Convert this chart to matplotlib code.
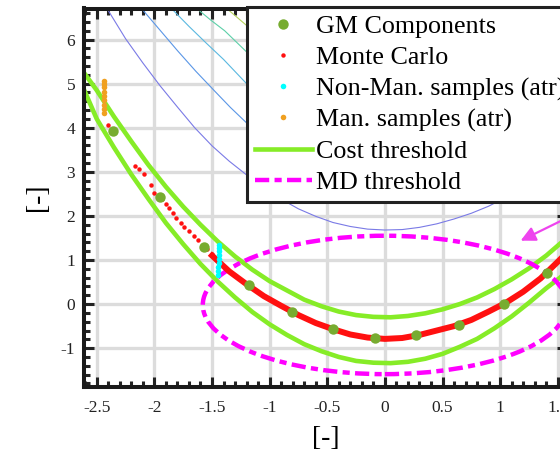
import matplotlib
matplotlib.use("Agg")
import matplotlib.pyplot as plt
from matplotlib.patches import Ellipse
from matplotlib.ticker import MultipleLocator, FormatStrFormatter

plt.rcParams["font.family"] = ["Liberation Serif", "DejaVu Serif"]
plt.rcParams["axes.unicode_minus"] = False

# GM components (means)
gm_x = [-2.36, -1.95, -1.57, -1.18, -0.81, -0.45, -0.09, 0.27, 0.64, 1.03, 1.41]
gm_y = [3.93, 2.43, 1.30, 0.43, -0.18, -0.57, -0.77, -0.70, -0.48, 0.00, 0.70]

# Monte Carlo: sparse samples on the upper branch, dense band further down
mc_sparse_x = [-2.40, -2.17, -2.13, -2.09, -2.03, -2.00, -1.96, -1.93, -1.90, -1.87,
               -1.84, -1.81, -1.77, -1.74, -1.70, -1.66, -1.62, -1.58, -1.54, -1.50]
mc_sparse_y = [4.07, 3.14, 3.07, 2.95, 2.70, 2.52, 2.45, 2.38, 2.28, 2.18,
               2.07, 1.95, 1.83, 1.75, 1.65, 1.55, 1.45, 1.35, 1.25, 1.13]
mc_band_x = [-1.50, -1.35, -1.20, -1.05, -0.90, -0.75, -0.60, -0.45, -0.30, -0.15, 0.00,
             0.15, 0.30, 0.45, 0.60, 0.75, 0.90, 1.05, 1.20, 1.35, 1.50, 1.60]
mc_band_y = [1.10, 0.74, 0.45, 0.18, -0.04, -0.25, -0.43, -0.57, -0.69, -0.76, -0.79,
             -0.77, -0.70, -0.60, -0.50, -0.36, -0.17, 0.03, 0.28, 0.58, 0.96, 1.22]

# attractor samples
nonman_x = [-1.445, -1.445, -1.444, -1.443, -1.442, -1.441, -1.440, -1.440, -1.439]
nonman_y = [0.66, 0.75, 0.84, 0.93, 1.02, 1.11, 1.20, 1.28, 1.34]
man_x = [-2.44, -2.44, -2.44, -2.44, -2.44, -2.44, -2.44, -2.44, -2.44]
man_y = [4.33, 4.42, 4.52, 4.62, 4.72, 4.82, 4.92, 5.00, 5.07]

# cost threshold (two branches)
cost_x = [-2.62, -2.50, -2.35, -2.20, -2.05, -1.90, -1.75, -1.60, -1.45, -1.30, -1.15,
          -1.00, -0.85, -0.70, -0.55, -0.40, -0.25, -0.10, 0.05, 0.20, 0.35, 0.50,
          0.65, 0.80, 0.95, 1.10, 1.25, 1.40, 1.52, 1.60]
cost_hi_y = [5.28, 4.85, 4.25, 3.69, 3.15, 2.66, 2.21, 1.80, 1.42, 1.08, 0.78,
             0.52, 0.31, 0.10, -0.05, -0.17, -0.25, -0.29, -0.30, -0.27, -0.21, -0.12,
             0.00, 0.15, 0.34, 0.56, 0.81, 1.10, 1.37, 1.55]
cost_lo_y = [4.92, 4.20, 3.55, 2.94, 2.38, 1.84, 1.36, 0.91, 0.51, 0.15, -0.18,
             -0.46, -0.70, -0.91, -1.07, -1.20, -1.29, -1.33, -1.34, -1.31, -1.24, -1.13,
             -0.97, -0.79, -0.55, -0.28, 0.03, 0.36, 0.60, 0.78]

# MD threshold ellipse
md_center = (0.0, -0.02)
md_width = 3.16
md_height = 3.14

# cost contours (visible parts)
contours = [
    ([-2.41, -2.25, -2.10, -1.95, -1.80, -1.65, -1.50, -1.35, -1.20, -1.05, -0.90, -0.75,
      -0.60, -0.45, -0.30, -0.15, 0.00, 0.15, 0.30, 0.45, 0.60, 0.75, 0.90, 1.05, 1.20],
     [6.70, 6.02, 5.47, 4.95, 4.47, 4.00, 3.59, 3.24, 2.93, 2.62, 2.38, 2.16,
      1.99, 1.85, 1.76, 1.70, 1.68, 1.69, 1.74, 1.82, 1.93, 2.06, 2.22, 2.42, 2.65], "#7a7ae6"),
    ([-2.11, -1.95, -1.80, -1.64, -1.48, -1.34, -1.20, -1.00],
     [6.70, 6.21, 5.75, 5.28, 4.84, 4.46, 4.11, 3.70], "#5a96e6"),
    ([-1.85, -1.70, -1.55, -1.40, -1.20], [6.70, 6.30, 5.92, 5.55, 5.00], "#5ab8e0"),
    ([-1.63, -1.51, -1.39, -1.20], [6.70, 6.44, 6.20, 5.72], "#5ccfa8"),
    ([-1.37, -1.20], [6.70, 6.32], "#b4d25a"),
]

arrow_tip = (1.156, 1.41)
arrow_tail = (1.60, 1.98)

fig = plt.figure(figsize=(5.6, 4.51), dpi=100)
ax = fig.add_axes([83.5 / 560, 64.5 / 451, 483.5 / 560, 378 / 451])

for cx, cy, col in contours:
    ax.plot(cx, cy, color=col, lw=0.8, zorder=1)

ax.plot(cost_x, cost_hi_y, color="#86ec27", lw=3.3, zorder=2, label="Cost threshold",
        solid_joinstyle="round")
ax.plot(cost_x, cost_lo_y, color="#86ec27", lw=3.3, zorder=2, solid_joinstyle="round")

md_style = (0, (3.2, 1.2, 1.6, 1.2))
ell = Ellipse(md_center, md_width, md_height, fill=False, edgecolor="#ff00ff", lw=3.2,
              linestyle=md_style, zorder=3)
ax.add_patch(ell)
ax.plot([], [], color="#ff00ff", lw=3.2, linestyle=md_style, label="MD threshold")

ax.plot(mc_band_x, mc_band_y, color="#ff1010", lw=4.3, zorder=4, solid_joinstyle="round")
ax.plot(mc_sparse_x, mc_sparse_y, "o", color="#ff1010", ms=3.2, mec="none", zorder=4,
        label="Monte Carlo")
ax.plot(nonman_x, nonman_y, "o", color="#00ffff", ms=4, mec="none", zorder=5,
        label="Non-Man. samples (atr)")
ax.plot(man_x, man_y, "o", color="#f0a020", ms=4, mec="none", zorder=5,
        label="Man. samples (atr)")
ax.plot(gm_x, gm_y, "o", color="#77ac30", ms=7.5, mec="none", zorder=6, label="GM Components")

ax.annotate("", xy=arrow_tip, xytext=arrow_tail, annotation_clip=False,
            arrowprops=dict(arrowstyle="-|>", color="#ee44ee", lw=1.6, mutation_scale=22))

ax.set_xlim(-2.615, 1.58)
ax.set_ylim(-1.87, 6.705)
ax.xaxis.set_major_locator(MultipleLocator(0.5))
ax.xaxis.set_minor_locator(MultipleLocator(0.1))
ax.yaxis.set_major_locator(MultipleLocator(1))
ax.yaxis.set_minor_locator(MultipleLocator(0.2))
ax.xaxis.set_major_formatter(FormatStrFormatter("%g"))
ax.yaxis.set_major_formatter(FormatStrFormatter("%g"))
ax.tick_params(which="both", direction="in", top=True, right=True, labelsize=12.5,
               colors="#222222")
ax.tick_params(which="major", length=7.5, width=2.2)
ax.tick_params(which="minor", length=4.5, width=2.2)
ax.tick_params(axis="x", pad=10)
ax.tick_params(axis="y", pad=6)
for s in ax.spines.values():
    s.set_linewidth(2.9)
    s.set_color("#1a1a1a")
ax.grid(True, which="major", color="#dcdcdc", lw=2.4, zorder=0)
ax.set_axisbelow(True)

ax.set_xlabel("[-]", fontsize=20, labelpad=7)
ax.set_ylabel("[-]", fontsize=20, labelpad=8)

handles, labels = ax.get_legend_handles_labels()
order = ["GM Components", "Monte Carlo", "Non-Man. samples (atr)", "Man. samples (atr)",
         "Cost threshold", "MD threshold"]
hmap = dict(zip(labels, handles))
leg = ax.legend([hmap[k] for k in order], order, loc="upper left", bbox_to_anchor=(0.338, 1.004),
                borderaxespad=0, fontsize=18.75, frameon=True, fancybox=False, framealpha=1,
                edgecolor="#222222", handlelength=2.2, handletextpad=0.15, borderpad=0.3,
                labelspacing=0.3, markerscale=1.0)
leg.get_frame().set_linewidth(2.2)
leg.set_zorder(20)

fig.savefig("out.png", dpi=100)
